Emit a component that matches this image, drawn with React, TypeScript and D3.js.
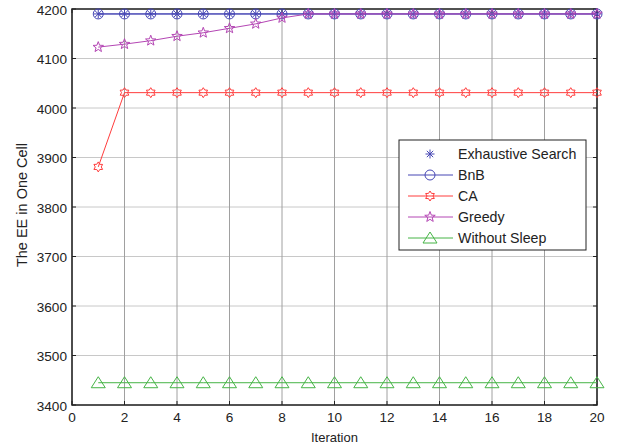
import React from "react";
import * as d3 from "d3";

const iterations = d3.range(1, 21);
const exhaustive = [4190,4190,4190,4190,4190,4190,4190,4190,4190,4190,4190,4190,4190,4190,4190,4190,4190,4190,4190,4190];
const bnb = [4190,4190,4190,4190,4190,4190,4190,4190,4190,4190,4190,4190,4190,4190,4190,4190,4190,4190,4190,4190];
const ca = [3881,4031,4031,4031,4031,4031,4031,4031,4031,4031,4031,4031,4031,4031,4031,4031,4031,4031,4031,4031];
const greedy = [4123,4129,4136,4145,4152,4161,4170,4182,4190,4190,4190,4190,4190,4190,4190,4190,4190,4190,4190,4190];
const withoutSleep = [3445,3445,3445,3445,3445,3445,3445,3445,3445,3445,3445,3445,3445,3445,3445,3445,3445,3445,3445,3445];
const xTicks = [0,2,4,6,8,10,12,14,16,18,20];
const yTicks = [3400,3500,3600,3700,3800,3900,4000,4100,4200];
const seriesNames = ["Exhaustive Search","BnB","CA","Greedy","Without Sleep"];

const BLUE = "#4646b4";
const RED = "#ff3c3c";
const PURPLE = "#b446b4";
const GREEN = "#46b446";

const L = 72, R = 597, T = 9, B = 405;

function starPath(cx: number, cy: number, n: number, ro: number, ri: number) {
  const pts: string[] = [];
  for (let i = 0; i < 2 * n; i++) {
    const r = i % 2 === 0 ? ro : ri;
    const a = -Math.PI / 2 + (i * Math.PI) / n;
    pts.push(`${(cx + r * Math.cos(a)).toFixed(2)},${(cy + r * Math.sin(a)).toFixed(2)}`);
  }
  return "M" + pts.join("L") + "Z";
}

function Marker({ kind, x, y, color }: { kind: string; x: number; y: number; color: string }) {
  if (kind === "asterisk") {
    const r = 4.5;
    const lines = [0, 45, 90, 135].map((a) => {
      const rad = (a * Math.PI) / 180;
      return (
        <line key={a} x1={x - r * Math.cos(rad)} y1={y - r * Math.sin(rad)} x2={x + r * Math.cos(rad)} y2={y + r * Math.sin(rad)} stroke={color} strokeWidth={1} />
      );
    });
    return <g>{lines}</g>;
  }
  if (kind === "circle") return <circle cx={x} cy={y} r={5} fill="none" stroke={color} strokeWidth={1} />;
  if (kind === "hexagram") return <path d={starPath(x, y, 6, 5, 3)} fill="none" stroke={color} strokeWidth={1} />;
  if (kind === "pentagram") return <path d={starPath(x, y, 5, 5.5, 2.3)} fill="none" stroke={color} strokeWidth={1} />;
  if (kind === "triangle") return <path d={`M${x},${y - 6}L${x + 7},${y + 5}L${x - 7},${y + 5}Z`} fill="none" stroke={color} strokeWidth={1} />;
  return null;
}

export default function App() {
  const x = d3.scaleLinear().domain([0, 20]).range([L, R]);
  const y = d3.scaleLinear().domain([3400, 4200]).range([B, T]);
  const line = d3.line<number>().x((_, i) => x(iterations[i])).y((d) => y(d));

  const series = [
    { name: seriesNames[0], data: exhaustive, color: BLUE, marker: "asterisk", showLine: true, legendLine: false },
    { name: seriesNames[1], data: bnb, color: BLUE, marker: "circle", showLine: true, legendLine: true },
    { name: seriesNames[2], data: ca, color: RED, marker: "hexagram", showLine: true, legendLine: true },
    { name: seriesNames[3], data: greedy, color: PURPLE, marker: "pentagram", showLine: true, legendLine: true },
    { name: seriesNames[4], data: withoutSleep, color: GREEN, marker: "triangle", showLine: true, legendLine: true },
  ];

  const font = "Liberation Sans, Arial, sans-serif";
  const legX = 399, legY = 140, legW = 187, legH = 110;

  return (
    <svg width={619} height={446} style={{ position: "absolute", left: 0, top: 0, background: "#fff" }} fontFamily={font}>
      <rect x={0} y={0} width={619} height={446} fill="#fff" />
      {yTicks.map((t) => (
        <line key={"gy" + t} x1={L} x2={R} y1={y(t)} y2={y(t)} stroke="#c8c8c8" strokeWidth={1} />
      ))}
      {xTicks.map((t) => (
        <line key={"gx" + t} x1={x(t)} x2={x(t)} y1={T} y2={B} stroke="#a0a0a0" strokeWidth={1} />
      ))}
      <rect x={L} y={T} width={R - L} height={B - T} fill="none" stroke="#222" strokeWidth={1.5} />
      {xTicks.map((t) => (
        <g key={"tx" + t}>
          <line x1={x(t)} x2={x(t)} y1={B} y2={B - 4} stroke="#222" />
          <line x1={x(t)} x2={x(t)} y1={T} y2={T + 4} stroke="#222" />
          <text x={x(t)} y={B + 17} textAnchor="middle" fontSize={13.6} fill="#222">{t}</text>
        </g>
      ))}
      {yTicks.map((t) => (
        <g key={"ty" + t}>
          <line x1={L} x2={L + 4} y1={y(t)} y2={y(t)} stroke="#222" />
          <line x1={R} x2={R - 4} y1={y(t)} y2={y(t)} stroke="#222" />
          <text x={L - 5} y={y(t) + 5.5} textAnchor="end" fontSize={13.6} fill="#222">{t}</text>
        </g>
      ))}
      <text x={(L + R) / 2} y={442} textAnchor="middle" fontSize={13} fill="#222">Iteration</text>
      <text transform={`translate(27,205) rotate(-90)`} textAnchor="middle" fontSize={14.5} fill="#222">The EE in One Cell</text>
      {series.map((s) => (
        <g key={s.name}>
          {s.showLine && <path d={line(s.data) || ""} fill="none" stroke={s.color} strokeWidth={1} />}
          {s.data.map((v, i) => (
            <Marker key={i} kind={s.marker} x={x(iterations[i])} y={y(v)} color={s.color} />
          ))}
        </g>
      ))}
      <rect x={legX} y={legY} width={legW} height={legH} fill="#fff" stroke="#222" strokeWidth={1} />
      {series.map((s, i) => {
        const ly = 154 + i * 21;
        return (
          <g key={"leg" + s.name}>
            {s.legendLine && <line x1={408} x2={453} y1={ly} y2={ly} stroke={s.color} strokeWidth={1} />}
            <Marker kind={s.marker} x={430} y={ly} color={s.color} />
            <text x={458} y={ly + 5} fontSize={14.2} fill="#222">{s.name}</text>
          </g>
        );
      })}
    </svg>
  );
}
